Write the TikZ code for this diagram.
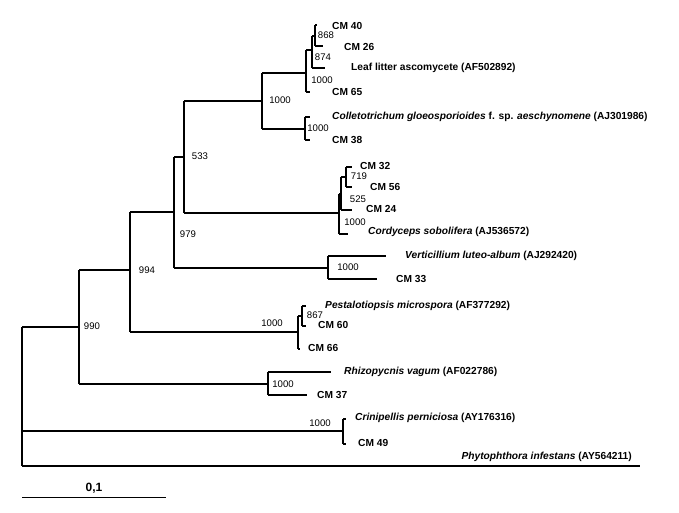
\documentclass[tikz,border=0pt]{standalone}
\usepackage{fontspec}
\setmainfont{Liberation Sans}
\usetikzlibrary{positioning}

\begin{document}
\begin{tikzpicture}[x=1pt,y=-1pt,
            br/.style={line width=1.3pt},
            every node/.style={inner sep=0pt},
            taxon/.style={anchor=west, font=\fontsize{10.2}{12}\selectfont\bfseries},
            boot/.style={font=\fontsize{9.6}{11}\selectfont}
  ]
  \useasboundingbox (0,0) rectangle (679,513);

  % internal nodes
  \coordinate (root) at (22,327);
  \coordinate (n990) at (79,327);
  \coordinate (n994) at (130,270);
  \coordinate (n979) at (174,212);
  \coordinate (n533) at (184,157);
  \coordinate (ncol) at (262,101);
  \coordinate (nlit) at (306,73);
  \coordinate (n874) at (312,50);
  \coordinate (n868) at (315,36);
  \coordinate (ncgl) at (305,129);
  \coordinate (ncor) at (339,213);
  \coordinate (n525) at (341,194);
  \coordinate (n719) at (346,177);
  \coordinate (nver) at (328,268);
  \coordinate (npes) at (298,332);
  \coordinate (n867) at (302,316);
  \coordinate (nrhi) at (268,384);
  \coordinate (ncri) at (343,431);

  % tips
  \coordinate (cm40) at (317,25);
  \coordinate (cm26) at (323,46);
  \coordinate (leaf) at (325,68);
  \coordinate (cm65) at (310,92);
  \coordinate (cgl) at (310,117);
  \coordinate (cm38) at (310,140);
  \coordinate (cm32) at (352,167);
  \coordinate (cm56) at (352,187);
  \coordinate (cm24) at (352,210);
  \coordinate (cord) at (348,234);
  \coordinate (vert) at (386,256);
  \coordinate (cm33) at (377,279);
  \coordinate (pest) at (306,306);
  \coordinate (cm60) at (306,326);
  \coordinate (cm66) at (300,349);
  \coordinate (rhiz) at (331,372);
  \coordinate (cm37) at (307,395);
  \coordinate (crin) at (346,419);
  \coordinate (cm49) at (346,444);
  \coordinate (phyt) at (640,466);

  % verticals
  \draw[br] (root) -- (root |- phyt);
  \draw[br] (n990 |- n994) -- (n990 |- nrhi);
  \draw[br] (n994 |- n979) -- (n994 |- npes);
  \draw[br] (n979 |- n533) -- (n979 |- nver);
  \draw[br] (n533 |- ncol) -- (n533 |- ncor);
  \draw[br] (ncol |- nlit) -- (ncol |- ncgl);
  \draw[br] (nlit |- n874) -- (nlit |- cm65);
  \draw[br] (n874 |- n868) -- (n874 |- leaf);
  \draw[br] (n868 |- cm40) -- (n868 |- cm26);
  \draw[br] (ncgl |- cgl) -- (ncgl |- cm38);
  \draw[br] (ncor |- n525) -- (ncor |- cord);
  \draw[br] (n525 |- n719) -- (n525 |- cm24);
  \draw[br] (n719 |- cm32) -- (n719 |- cm56);
  \draw[br] (nver |- vert) -- (nver |- cm33);
  \draw[br] (npes |- n867) -- (npes |- cm66);
  \draw[br] (n867 |- pest) -- (n867 |- cm60);
  \draw[br] (nrhi |- rhiz) -- (nrhi |- cm37);
  \draw[br] (ncri |- crin) -- (ncri |- cm49);

  % horizontals
  \draw[br] (root) -- (n990);
  \draw[br] (n990 |- n994) -- (n994);
  \draw[br] (n990 |- nrhi) -- (nrhi);
  \draw[br] (n994 |- n979) -- (n979);
  \draw[br] (n994 |- npes) -- (npes);
  \draw[br] (n979 |- n533) -- (n533);
  \draw[br] (n979 |- nver) -- (nver);
  \draw[br] (n533 |- ncol) -- (ncol);
  \draw[br] (n533 |- ncor) -- (ncor);
  \draw[br] (ncol |- nlit) -- (nlit);
  \draw[br] (ncol |- ncgl) -- (ncgl);
  \draw[br] (nlit |- n874) -- (n874);
  \draw[br] (nlit |- cm65) -- (cm65);
  \draw[br] (n874 |- n868) -- (n868);
  \draw[br] (n874 |- leaf) -- (leaf);
  \draw[br] (n868 |- cm40) -- (cm40);
  \draw[br] (n868 |- cm26) -- (cm26);
  \draw[br] (ncgl |- cgl) -- (cgl);
  \draw[br] (ncgl |- cm38) -- (cm38);
  \draw[br] (ncor |- n525) -- (n525);
  \draw[br] (ncor |- cord) -- (cord);
  \draw[br] (n525 |- n719) -- (n719);
  \draw[br] (n525 |- cm24) -- (cm24);
  \draw[br] (n719 |- cm32) -- (cm32);
  \draw[br] (n719 |- cm56) -- (cm56);
  \draw[br] (nver |- vert) -- (vert);
  \draw[br] (nver |- cm33) -- (cm33);
  \draw[br] (npes |- n867) -- (n867);
  \draw[br] (npes |- cm66) -- (cm66);
  \draw[br] (n867 |- pest) -- (pest);
  \draw[br] (n867 |- cm60) -- (cm60);
  \draw[br] (nrhi |- rhiz) -- (rhiz);
  \draw[br] (nrhi |- cm37) -- (cm37);
  \draw[br] (root |- ncri) -- (ncri);
  \draw[br] (ncri |- crin) -- (crin);
  \draw[br] (ncri |- cm49) -- (cm49);
  \draw[br] (root |- phyt) -- (phyt);

  % taxa
  \node[taxon] (tcm40) at (332,26) {CM 40};
  \node[taxon] (tcm26) at (344,47) {CM 26};
  \node[taxon] (tleaf) at (351,68) {Leaf litter ascomycete (AF502892)};
  \node[taxon] (tcm65) at (332,92) {CM 65};
  \node[taxon] (tcgl) at (332,117) {\itshape Colletotrichum gloeosporioides \upshape f. sp. \itshape aeschynomene \upshape (AJ301986)};
  \node[taxon] (tcm38) at (332,140) {CM 38};
  \node[taxon] (tcm32) at (360,166) {CM 32};
  \node[taxon] (tcm56) at (370,187) {CM 56};
  \node[taxon] (tcm24) at (366,209) {CM 24};
  \node[taxon] (tcord) at (368,232) {\itshape Cordyceps sobolifera \upshape (AJ536572)};
  \node[taxon] (tvert) at (405,256) {\itshape Verticillium luteo-album \upshape (AJ292420)};
  \node[taxon] (tcm33) at (396,279) {CM 33};
  \node[taxon] (tpest) at (325,306) {\itshape Pestalotiopsis microspora \upshape (AF377292)};
  \node[taxon] (tcm60) at (318,325) {CM 60};
  \node[taxon] (tcm66) at (308,348) {CM 66};
  \node[taxon] (trhiz) at (344,372) {\itshape Rhizopycnis vagum \upshape (AF022786)};
  \node[taxon] (tcm37) at (317,395) {CM 37};
  \node[taxon] (tcrin) at (355,418) {\itshape Crinipellis perniciosa \upshape (AY176316)};
  \node[taxon] (tcm49) at (358,443) {CM 49};
  \node[taxon, anchor=east] (tphyt) at (632,457) {\itshape Phytophthora infestans \upshape (AY564211)};

  % bootstrap values
  \node[boot] (b868) at (326,35) {868};
  \node[boot] (b874) at (323,57) {874};
  \node[boot] (blit) at (322,80) {1000};
  \node[boot] (bcol) at (280,100) {1000};
  \node[boot] (bcgl) at (318,128) {1000};
  \node[boot] (b533) at (200,156) {533};
  \node[boot] (b719) at (359,176) {719};
  \node[boot] (b525) at (358,199) {525};
  \node[boot] (bcor) at (355,222) {1000};
  \node[boot] (b979) at (188,234) {979};
  \node[boot] (b994) at (147,270) {994};
  \node[boot] (b990) at (92,326) {990};
  \node[boot] (bver) at (348,267) {1000};
  \node[boot] (b867) at (315,315) {867};
  \node[boot] (bpes) at (272,323) {1000};
  \node[boot] (brhi) at (283,384) {1000};
  \node[boot] (bcri) at (320,423) {1000};

  % scale bar
  \coordinate (sa) at (22,497);
  \coordinate (sb) at (166,497);
  \draw[line width=1pt] (sa) -- (sb);
  \node[font=\fontsize{12}{13}\selectfont\bfseries] (slab) at (94,488) {0,1};
\end{tikzpicture}
\end{document}
